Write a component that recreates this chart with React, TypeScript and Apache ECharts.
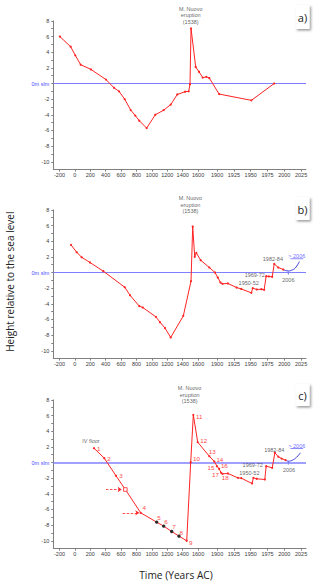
import React, { useEffect, useRef } from "react";
import * as echarts from "echarts";

// ---------- data ----------
const xTickYears = [-200, 0, 200, 400, 600, 800, 1000, 1200, 1400, 1600, 1900, 1925, 1950, 1975, 2000, 2025];
const yTickValues = [-10, -8, -6, -4, -2, 0, 2, 4, 6, 8];
const panelNames = ["a)", "b)", "c)"];

// panel a
const aYears = [-195, -55, 5, 75, 209, 404, 508, 573, 647, 725, 784, 836, 932, 1044, 1153, 1244, 1330, 1430, 1478, 1495, 1508, 1569, 1614, 1673, 1730, 1777, 1903, 1951, 1985];
const aHeights = [6.0, 4.7, 3.6, 2.4, 1.8, 0.5, -0.55, -1.0, -2.0, -3.4, -4.1, -4.75, -5.7, -4.0, -3.4, -2.7, -1.4, -1.05, -1.0, -0.1, 7.05, 2.1, 1.5, 0.75, 0.85, 0.7, -1.35, -2.15, 0];

// panel b
const bYears = [-51, 23, 88, 196, 369, 647, 716, 836, 881, 1053, 1105, 1170, 1244, 1408, 1508, 1530, 1556, 1577, 1641, 1777, 1867, 1901, 1905, 1908, 1916, 1929, 1936, 1951, 1953, 1959, 1966, 1970, 1973, 1977, 1982, 1985, 1991, 1998.5];
const bHeights = [3.53, 2.59, 1.95, 1.28, 0.17, -1.88, -2.9, -4.3, -4.47, -5.67, -6.35, -7.1, -8.3, -5.54, -1.1, 5.87, 2.0, 2.5, 1.57, 0.64, 0, -0.64, -1.28, -1.45, -1.4, -1.92, -2.1, -2.6, -2.0, -2.17, -2.13, -2.22, -0.47, -0.5, -0.55, 1.1, 0.64, 0.38];
const bArcYears = [1998.5, 2002, 2006, 2011, 2016, 2022.5];
const bArcHeights = [0.38, 0.25, 0.2, 0.3, 0.55, 1.4];

// panel c
const cYears = [248, 382, 534, 655, 855, 1062, 1153, 1257, 1352, 1452, 1504, 1538, 1595, 1777, 1856, 1898, 1903, 1906, 1908, 1916, 1931, 1936, 1952, 1954, 1959, 1971, 1973, 1982, 1986, 1991, 1996, 2002];
const cHeights = [1.83, 0.55, -1.7, -3.45, -6.43, -7.62, -8.13, -8.81, -9.41, -10.0, 0.04, 6.09, 2.6, 0.8, 0.13, -0.47, -0.8, -1.32, -1.45, -1.4, -1.96, -2.0, -2.68, -1.96, -2.08, -2.17, -0.47, -0.68, 1.24, 0.75, 0.5, 0.3];
const cTags = ["1", "2", "3", "", "4", "5", "6", "7", "8", "9", "10", "11", "12", "13", "14", "15", "16", "17", "18", "", "", "", "", "", "", "", "", "", "", "", "", ""];
const cKinds = ["red", "red", "red", "box", "red", "black", "black", "black", "black", "red", "red", "red", "red", "red", "red", "red", "red", "red", "red", "red", "red", "red", "red", "red", "red", "red", "red", "red", "red", "red", "red", "red"];
const cArcYears = [2002, 2006, 2012, 2018, 2024];
const cArcHeights = [0.3, 0.17, 0.3, 0.65, 1.24];
const cArrowStartYears = [404, 621];
const cArrowEndYears = [608, 836];
const cArrowHeights = [-3.45, -6.43];

// annotations (text, year, height)
const eruptionText = "M. Nuovo\neruption\n(1538)";
const eruptionYears = [1504, 1500, 1490];
const eruptionHeights = [8.72, 8.66, 8.68];
const bNoteTexts = ["1950-52", "1969-72", "1982-84", "2006", "> 2006"];
const bNoteYears = [1947, 1956, 1983, 2006, 2018.6];
const bNoteHeights = [-1.37, -0.3, 1.69, -0.98, 2.12];
const cNoteTexts = ["IV floor", "1950-52", "1969-72", "1982-84", "2006", "> 2006"];
const cNoteYears = [209, 1948, 1953, 1985, 2007, 2018.6];
const cNoteHeights = [2.77, -1.32, -0.26, 1.66, -0.9, 2.17];
const underlineYears = [2009, 2028];
const underlineHeights = [1.76, 1.79]; // b, c
const tick2006Heights = [0.12, -0.25];

// ---------- styles / layout ----------
const RED = "#ff2323";
const ZERO_BLUE = "#8080ff";
const ARC_BLUE = "#3b3bd9";
const TEXT = "#3a3a3a";
const AXIS = "#808080";
const TICK_FONT = "'Liberation Sans', Arial, sans-serif";
const TITLE_FONT = "'Open Sans', 'DejaVu Sans', sans-serif";
const gridTops = [20.9, 209.9, 399.9];
const GRID_H = 148.7;
const labelOffsets: Record<string, number[]> = {
  "1": [4.7, 0], "2": [4.7, 0.6], "3": [5, -0.3], "4": [3.6, -5], "5": [2.3, -4.4],
  "6": [2.3, -4.4], "7": [2.3, -5.3], "8": [2.3, -4], "9": [4, 1.4], "10": [5.8, -3.4],
  "11": [5.8, 1.7], "12": [6, -1.7], "13": [3, -5], "14": [5.5, -2], "15": [-6, 1],
  "16": [5.2, -3], "17": [-5.6, 1.7], "18": [2.8, 4],
};

// piecewise (broken) time axis
function yearToX(y: number): number {
  if (y <= 1600) return ((y + 200) / 200) * 15.4;
  if (y <= 1900) return 138.6 + ((y - 1600) / 300) * 19;
  return 157.6 + ((y - 1900) / 25) * 16.8;
}
const xTickPos = xTickYears.map(yearToX);
function xLabel(v: number): string {
  let best = 0;
  for (let i = 1; i < xTickPos.length; i++) if (Math.abs(xTickPos[i] - v) < Math.abs(xTickPos[best] - v)) best = i;
  return String(xTickYears[best]);
}
const pts = (ys: number[], hs: number[]) => ys.map((y, i) => [yearToX(y), hs[i]]);

export default function App() {
  const ref = useRef<HTMLDivElement>(null);
  useEffect(() => {
    if (!ref.current) return;
    const chart = echarts.init(ref.current, undefined, { renderer: "svg" });

    const grids = gridTops.map((t) => ({ left: 53.3, right: 14, top: t, height: GRID_H }));
    const xAxes = gridTops.map((_, i) => ({
      gridIndex: i, type: "value", min: -6.2, max: 246.5,
      axisLine: { show: true, onZero: false, lineStyle: { color: AXIS, width: 1 } },
      axisTick: { show: true, customValues: xTickPos, length: 2, lineStyle: { color: AXIS } },
      axisLabel: { customValues: xTickPos, formatter: (v: number) => xLabel(v), fontSize: 5.5, color: TEXT, margin: 2.5, fontFamily: TICK_FONT },
      splitLine: { show: false },
    }));
    const yTicks: number[] = [];
    for (let v = -10; v <= 8; v++) yTicks.push(v);
    const yAxes = gridTops.map((_, i) => ({
      gridIndex: i, type: "value", min: -11, max: 8,
      axisLine: { show: true, onZero: false, lineStyle: { color: AXIS, width: 1 } },
      axisTick: { show: true, customValues: yTicks, length: 2, lineStyle: { color: AXIS } },
      axisLabel: {
        customValues: yTickValues, fontSize: 5.5, color: TEXT, margin: 4, fontFamily: TICK_FONT,
        formatter: (v: number) => (v === 0 ? "{z|0m slm}" : String(v)),
        rich: { z: { color: "#4b4bff", fontSize: 5.5, fontFamily: TICK_FONT } },
      },
      splitLine: { show: false },
    }));

    const series: any[] = [];
    // zero reference lines
    gridTops.forEach((_, i) => {
      series.push({
        type: "line", xAxisIndex: i, yAxisIndex: i, data: [], silent: true,
        markLine: {
          silent: true, symbol: ["none", "none"], label: { show: false },
          lineStyle: { color: ZERO_BLUE, width: i === 2 ? 1.6 : 1.1, type: "solid" },
          data: [{ yAxis: 0 }],
        },
      });
    });
    const redLine = (i: number, data: any[]) => ({
      type: "line", xAxisIndex: i, yAxisIndex: i, data,
      symbol: "circle", symbolSize: 2.2, showAllSymbol: true,
      itemStyle: { color: RED }, lineStyle: { color: RED, width: 1 }, z: 5,
    });
    series.push(redLine(0, pts(aYears, aHeights)));
    series.push(redLine(1, pts(bYears, bHeights)));
    const cData = cYears.map((y, k) => {
      const kind = cKinds[k];
      const tag = cTags[k];
      const item: any = { value: [yearToX(y), cHeights[k]] };
      if (kind === "black") { item.symbolSize = 3.4; item.itemStyle = { color: "#2a2a2a" }; }
      if (kind === "box") { item.symbol = "rect"; item.symbolSize = 3.6; item.itemStyle = { color: "#ffffff", borderColor: RED, borderWidth: 0.8 }; }
      if (tag) {
        item.label = { show: true, formatter: tag, position: "inside", offset: labelOffsets[tag], color: "#ff4a4a", fontSize: 6.2, fontFamily: TICK_FONT, align: "center", verticalAlign: "middle" };
      }
      return item;
    });
    series.push(redLine(2, cData));

    // arrows in c
    series.push({
      type: "line", xAxisIndex: 2, yAxisIndex: 2, data: [], silent: true,
      markLine: {
        silent: true, symbol: ["none", "arrow"], symbolSize: 4, label: { show: false },
        lineStyle: { color: RED, width: 0.8, type: [2.5, 1.5] },
        data: cArrowStartYears.map((s, k) => [
          { coord: [yearToX(s), cArrowHeights[k]] },
          { coord: [yearToX(cArrowEndYears[k]), cArrowHeights[k]] },
        ]),
      },
    });

    // blue arcs, 2006 ticks, underlines
    const arc = (i: number, ys: number[], hs: number[]) => ({
      type: "line", xAxisIndex: i, yAxisIndex: i, data: pts(ys, hs), smooth: true, symbol: "none",
      lineStyle: { color: ARC_BLUE, width: 1 }, z: 4,
    });
    series.push(arc(1, bArcYears, bArcHeights));
    series.push(arc(2, cArcYears, cArcHeights));
    [1, 2].forEach((i) => {
      series.push({
        type: "line", xAxisIndex: i, yAxisIndex: i, symbol: "none",
        data: tick2006Heights.map((h) => [yearToX(2006), h]),
        lineStyle: { color: ARC_BLUE, width: 0.8 },
      });
      series.push({
        type: "line", xAxisIndex: i, yAxisIndex: i, symbol: "none",
        data: underlineYears.map((y) => [yearToX(y), underlineHeights[i - 1]]),
        lineStyle: { color: "#5a5aff", width: 0.7 },
      });
    });

    // text annotations
    const notes = (i: number, texts: string[], ys: number[], hs: number[]) => ({
      type: "scatter", xAxisIndex: i, yAxisIndex: i, clip: false, symbolSize: 0, silent: true, z: 6,
      data: texts.map((t, k) => ({
        value: [yearToX(ys[k]), hs[k]],
        label: {
          show: true, position: "inside", formatter: t, fontSize: 5.5, lineHeight: 6.6,
          color: t.startsWith(">") ? "#4444ff" : TEXT, fontFamily: TICK_FONT,
          align: "center", verticalAlign: "middle",
        },
      })),
    });
    gridTops.forEach((_, i) => series.push(notes(i, [eruptionText], [eruptionYears[i]], [eruptionHeights[i]])));
    series.push(notes(1, bNoteTexts, bNoteYears, bNoteHeights));
    series.push(notes(2, cNoteTexts, cNoteYears, cNoteHeights));

    const boxTops = [5, 197, 384];
    const boxHeights = [24, 23, 22];
    const graphic: any[] = [];
    panelNames.forEach((name, i) => {
      graphic.push({
        type: "rect", left: 295.5, top: boxTops[i], shape: { width: 14, height: boxHeights[i] },
        style: { fill: "#ffffff", shadowBlur: 2, shadowOffsetX: 1.5, shadowOffsetY: 1.5, shadowColor: "rgba(0,0,0,0.4)" },
      });
      graphic.push({
        type: "text", x: 302.5, y: boxTops[i] + boxHeights[i] / 2 + 0.5,
        style: { text: name, fontSize: 11, fill: "#222", fontFamily: TITLE_FONT, align: "center", verticalAlign: "middle" },
      });
    });
    graphic.push({
      type: "text", x: 10, y: 281.7, rotation: Math.PI / 2,
      style: { text: "Height relative to the sea level", fontSize: 10, fill: "#222", fontFamily: TITLE_FONT, align: "center", verticalAlign: "middle" },
    });
    graphic.push({
      type: "text", x: 176, y: 575,
      style: { text: "Time (Years AC)", fontSize: 10.2, fill: "#222", fontFamily: TITLE_FONT, align: "center", verticalAlign: "middle" },
    });

    chart.setOption({
      animation: false,
      backgroundColor: "#ffffff",
      grid: grids,
      xAxis: xAxes,
      yAxis: yAxes,
      series,
      graphic,
    });
    return () => chart.dispose();
  }, []);
  return <div ref={ref} style={{ position: "absolute", left: 0, top: 0, width: 320, height: 585 }} />;
}
